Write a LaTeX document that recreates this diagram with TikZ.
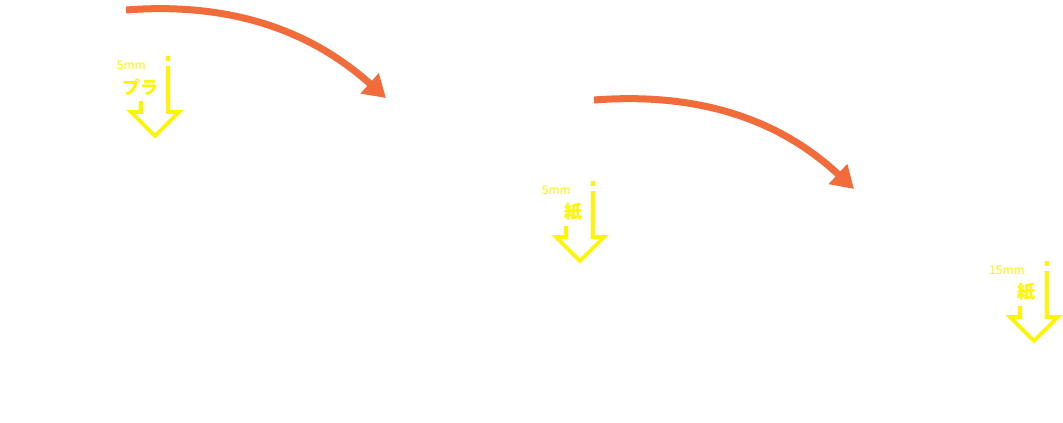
\documentclass[tikz,border=0pt]{standalone}
\usepackage{fontspec}
\newfontfamily\cjk{Noto Sans CJK JP}
\usetikzlibrary{arrows.meta}
\definecolor{flowc}{HTML}{F26B3A}
\definecolor{dropc}{HTML}{FFF500}
\begin{document}
\begin{tikzpicture}[x=1pt,y=-1pt]
  \tikzset{drop/.style={draw=dropc,line width=3.8pt,line join=miter},
    txt/.style={text=dropc,inner sep=0pt},
    move/.style={draw=flowc,line width=7pt,-{Triangle[length=22pt,width=26pt]}}}
  \useasboundingbox (0,0) rectangle (1063,423);
  \foreach \dx/\dy/\mm/\kind/\nx in {0/0/5mm/プラ/140,425/125/5mm/紙/573,879/205/15mm/紙/1026}
  { \begin{scope}[shift={(\dx,\dy)}]
      \fill[dropc] (166,56) rectangle (170,61);
      \draw[drop] (168,66)--(168,112)--(179,112)--(155,136)--(131,112)--(141,112)--(141,101);
    \end{scope}
    \node[txt,font=\cjk\fontsize{12}{12}\selectfont,anchor=east] (mm) at ({146+\dx},{65+\dy}) {\mm};
    \node[txt,font=\cjk\bfseries\fontsize{18}{18}\selectfont] (k) at ({\nx},{87+\dy}) {\kind}; }
  \coordinate (a1) at (126,10);
  \coordinate (b1) at (386,98);
  \coordinate (a2) at (594,100);
  \coordinate (b2) at (854,189);
  \draw[move] (a1) .. controls (230,2) and (310,30) .. (b1);
  \draw[move] (a2) .. controls (700,92) and (780,120) .. (b2);
\end{tikzpicture}
\end{document}
